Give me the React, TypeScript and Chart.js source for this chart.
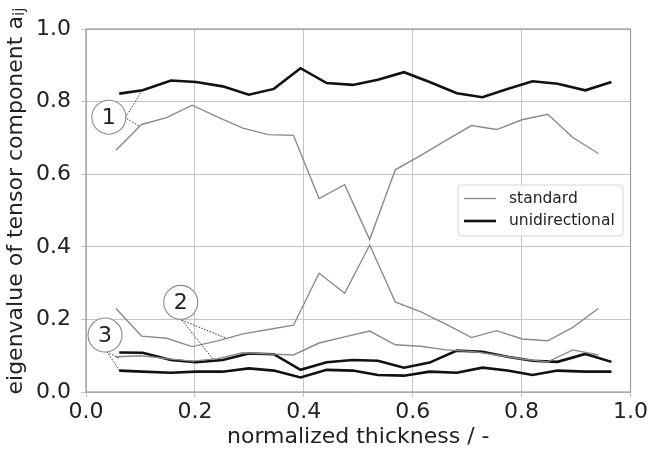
import { useEffect, useRef } from "react";
import { Chart, registerables } from "chart.js";

Chart.register(...registerables);

// x positions (normalized thickness) of the layers
const stdX = [0.055, 0.102, 0.148, 0.195, 0.242, 0.288, 0.335, 0.381, 0.428, 0.475, 0.521, 0.568, 0.615, 0.661, 0.708, 0.754, 0.801, 0.848, 0.894, 0.941];
const uniX = [0.061, 0.104, 0.156, 0.202, 0.251, 0.299, 0.345, 0.394, 0.442, 0.490, 0.536, 0.584, 0.631, 0.681, 0.728, 0.774, 0.820, 0.866, 0.917, 0.965];

// standard: eigenvalues a1 > a2 > a3
const stdA1 = [0.666, 0.737, 0.756, 0.790, 0.757, 0.727, 0.709, 0.707, 0.533, 0.571, 0.420, 0.612, 0.652, 0.693, 0.734, 0.723, 0.750, 0.765, 0.701, 0.657];
const stdA2 = [0.230, 0.154, 0.148, 0.125, 0.141, 0.160, 0.172, 0.184, 0.327, 0.272, 0.405, 0.248, 0.221, 0.187, 0.150, 0.169, 0.146, 0.141, 0.178, 0.230];
const stdA3 = [0.097, 0.100, 0.092, 0.085, 0.092, 0.108, 0.105, 0.102, 0.135, 0.152, 0.168, 0.130, 0.126, 0.116, 0.112, 0.102, 0.091, 0.083, 0.116, 0.102];

// unidirectional: eigenvalues a1 > a2 > a3
const uniA1 = [0.822, 0.831, 0.858, 0.854, 0.842, 0.819, 0.835, 0.892, 0.851, 0.846, 0.860, 0.881, 0.854, 0.823, 0.812, 0.835, 0.856, 0.849, 0.831, 0.854];
const uniA2 = [0.109, 0.108, 0.088, 0.082, 0.088, 0.106, 0.104, 0.061, 0.082, 0.088, 0.086, 0.067, 0.081, 0.114, 0.111, 0.097, 0.086, 0.083, 0.105, 0.083];
const uniA3 = [0.059, 0.056, 0.053, 0.056, 0.056, 0.065, 0.059, 0.040, 0.061, 0.059, 0.047, 0.045, 0.056, 0.053, 0.067, 0.059, 0.047, 0.059, 0.056, 0.056];

const tickValues = [0, 0.2, 0.4, 0.6, 0.8, 1.0];
const xTitle = "normalized thickness / -";
const yTitleMain = "eigenvalue of tensor component a";
const yTitleSub = "ij";
const legendLabels = ["standard", "unidirectional"];

// callout labels (data coords) and the leader-line end points
const calloutLabels = ["1", "2", "3"];
const calloutCenters = [
  [0.042, 0.757],
  [0.174, 0.247],
  [0.035, 0.157],
];
const calloutLeaders = [
  [[0.073, 0.757, 0.101, 0.826], [0.075, 0.753, 0.098, 0.732]],
  [[0.176, 0.198, 0.258, 0.148], [0.176, 0.198, 0.232, 0.093]],
  [[0.038, 0.111, 0.061, 0.093], [0.038, 0.111, 0.062, 0.059]],
];

const FONT = "'DejaVu Sans', 'Liberation Sans', sans-serif";
const STD_COLOR = "#8a8a8a";
const UNI_COLOR = "#111111";

function pts(xs: number[], ys: number[]) {
  return xs.map((x, i) => ({ x, y: ys[i] }));
}

const overlayPlugin = {
  id: "overlay",
  afterDatasetsDraw(chart: any) {
    const { ctx, chartArea, scales } = chart;
    const xs = scales.x;
    const ys = scales.y;
    ctx.save();
    // frame
    ctx.strokeStyle = "#9a9a9a";
    ctx.lineWidth = 1.2;
    ctx.strokeRect(chartArea.left, chartArea.top, chartArea.right - chartArea.left, chartArea.bottom - chartArea.top);

    // callouts
    calloutLeaders.forEach((lines, k) => {
      ctx.setLineDash([1.5, 1.5]);
      ctx.strokeStyle = "#333";
      ctx.lineWidth = 1;
      lines.forEach((l) => {
        ctx.beginPath();
        ctx.moveTo(xs.getPixelForValue(l[0]), ys.getPixelForValue(l[1]));
        ctx.lineTo(xs.getPixelForValue(l[2]), ys.getPixelForValue(l[3]));
        ctx.stroke();
      });
      ctx.setLineDash([]);
      const cx = xs.getPixelForValue(calloutCenters[k][0]);
      const cy = ys.getPixelForValue(calloutCenters[k][1]);
      ctx.beginPath();
      ctx.arc(cx, cy, 17, 0, Math.PI * 2);
      ctx.fillStyle = "#ffffff";
      ctx.fill();
      ctx.strokeStyle = "#8a8a8a";
      ctx.lineWidth = 1.1;
      ctx.stroke();
      ctx.fillStyle = "#222";
      ctx.font = `22px ${FONT}`;
      ctx.textAlign = "center";
      ctx.textBaseline = "middle";
      ctx.fillText(calloutLabels[k], cx, cy + 1);
    });

    // legend box
    const bx = 458, by = 185, bw = 165, bh = 51, r = 4;
    ctx.beginPath();
    ctx.moveTo(bx + r, by);
    ctx.lineTo(bx + bw - r, by);
    ctx.quadraticCurveTo(bx + bw, by, bx + bw, by + r);
    ctx.lineTo(bx + bw, by + bh - r);
    ctx.quadraticCurveTo(bx + bw, by + bh, bx + bw - r, by + bh);
    ctx.lineTo(bx + r, by + bh);
    ctx.quadraticCurveTo(bx, by + bh, bx, by + bh - r);
    ctx.lineTo(bx, by + r);
    ctx.quadraticCurveTo(bx, by, bx + r, by);
    ctx.closePath();
    ctx.fillStyle = "rgba(255,255,255,0.8)";
    ctx.fill();
    ctx.strokeStyle = "#d6d6d6";
    ctx.lineWidth = 1;
    ctx.stroke();
    const rows = [
      { label: legendLabels[0], color: STD_COLOR, w: 1.4, y: by + 13.5 },
      { label: legendLabels[1], color: UNI_COLOR, w: 2.6, y: by + 36 },
    ];
    rows.forEach((row) => {
      ctx.strokeStyle = row.color;
      ctx.lineWidth = row.w;
      ctx.beginPath();
      ctx.moveTo(bx + 6, row.y);
      ctx.lineTo(bx + 38, row.y);
      ctx.stroke();
      ctx.fillStyle = "#222";
      ctx.font = `15.5px ${FONT}`;
      ctx.textAlign = "left";
      ctx.textBaseline = "middle";
      ctx.fillText(row.label, bx + 51, row.y);
    });

    // y-axis title with subscript
    ctx.translate(16, 201);
    ctx.rotate(-Math.PI / 2);
    ctx.font = `22px ${FONT}`;
    const w1 = ctx.measureText(yTitleMain).width;
    ctx.font = `15.5px ${FONT}`;
    const w2 = ctx.measureText(yTitleSub).width;
    const start = -(w1 + w2) / 2;
    ctx.fillStyle = "#222";
    ctx.textAlign = "left";
    ctx.textBaseline = "middle";
    ctx.font = `22px ${FONT}`;
    ctx.fillText(yTitleMain, start, 0);
    ctx.font = `15.5px ${FONT}`;
    ctx.fillText(yTitleSub, start + w1, 4);
    ctx.restore();
  },
};

export default function App() {
  const ref = useRef<HTMLCanvasElement | null>(null);
  useEffect(() => {
    document.body.style.margin = "0";
    const canvas = ref.current;
    if (!canvas) return;
    const line = (label: string, xs: number[], ys: number[], color: string, w: number) => ({
      label,
      data: pts(xs, ys),
      borderColor: color,
      backgroundColor: color,
      borderWidth: w,
      pointRadius: 0,
      tension: 0,
      fill: false,
    });
    const chart = new Chart(canvas, {
      type: "line",
      data: {
        datasets: [
          line(legendLabels[0], stdX, stdA1, STD_COLOR, 1.4),
          line(legendLabels[0], stdX, stdA2, STD_COLOR, 1.4),
          line(legendLabels[0], stdX, stdA3, STD_COLOR, 1.4),
          line(legendLabels[1], uniX, uniA1, UNI_COLOR, 2.6),
          line(legendLabels[1], uniX, uniA2, UNI_COLOR, 2.6),
          line(legendLabels[1], uniX, uniA3, UNI_COLOR, 2.6),
        ],
      },
      options: {
        animation: false,
        responsive: false,
        devicePixelRatio: 1,
        layout: { padding: { top: 29, right: 19, left: 0, bottom: 0 } },
        plugins: { legend: { display: false }, tooltip: { enabled: false } },
        scales: {
          x: {
            type: "linear",
            min: 0,
            max: 1,
            afterBuildTicks: (s: any) => {
              s.ticks = tickValues.map((v) => ({ value: v }));
            },
            afterFit: (s: any) => {
              s.height = 63;
            },
            grid: { color: "#c4c4c4", lineWidth: 1, tickLength: 5, drawTicks: true },
            border: { display: false },
            ticks: {
              color: "#222",
              font: { family: FONT, size: 22 },
              padding: 2,
              maxRotation: 0,
              callback: (v: any) => Number(v).toFixed(1),
            },
            title: {
              display: true,
              text: xTitle,
              color: "#222",
              font: { family: FONT, size: 22 },
              padding: { top: 0, bottom: 5 },
            },
          },
          y: {
            type: "linear",
            min: 0,
            max: 1,
            afterBuildTicks: (s: any) => {
              s.ticks = tickValues.map((v) => ({ value: v }));
            },
            afterFit: (s: any) => {
              s.width = 86;
            },
            grid: { color: "#c4c4c4", lineWidth: 1, tickLength: 5, drawTicks: true },
            border: { display: false },
            ticks: {
              color: "#222",
              font: { family: FONT, size: 22 },
              padding: 10,
              callback: (v: any) => Number(v).toFixed(1),
            },
          },
        },
      },
      plugins: [overlayPlugin],
    } as any);
    return () => chart.destroy();
  }, []);
  return <canvas ref={ref} width={650} height={455} style={{ display: "block", width: 650, height: 455 }} />;
}
